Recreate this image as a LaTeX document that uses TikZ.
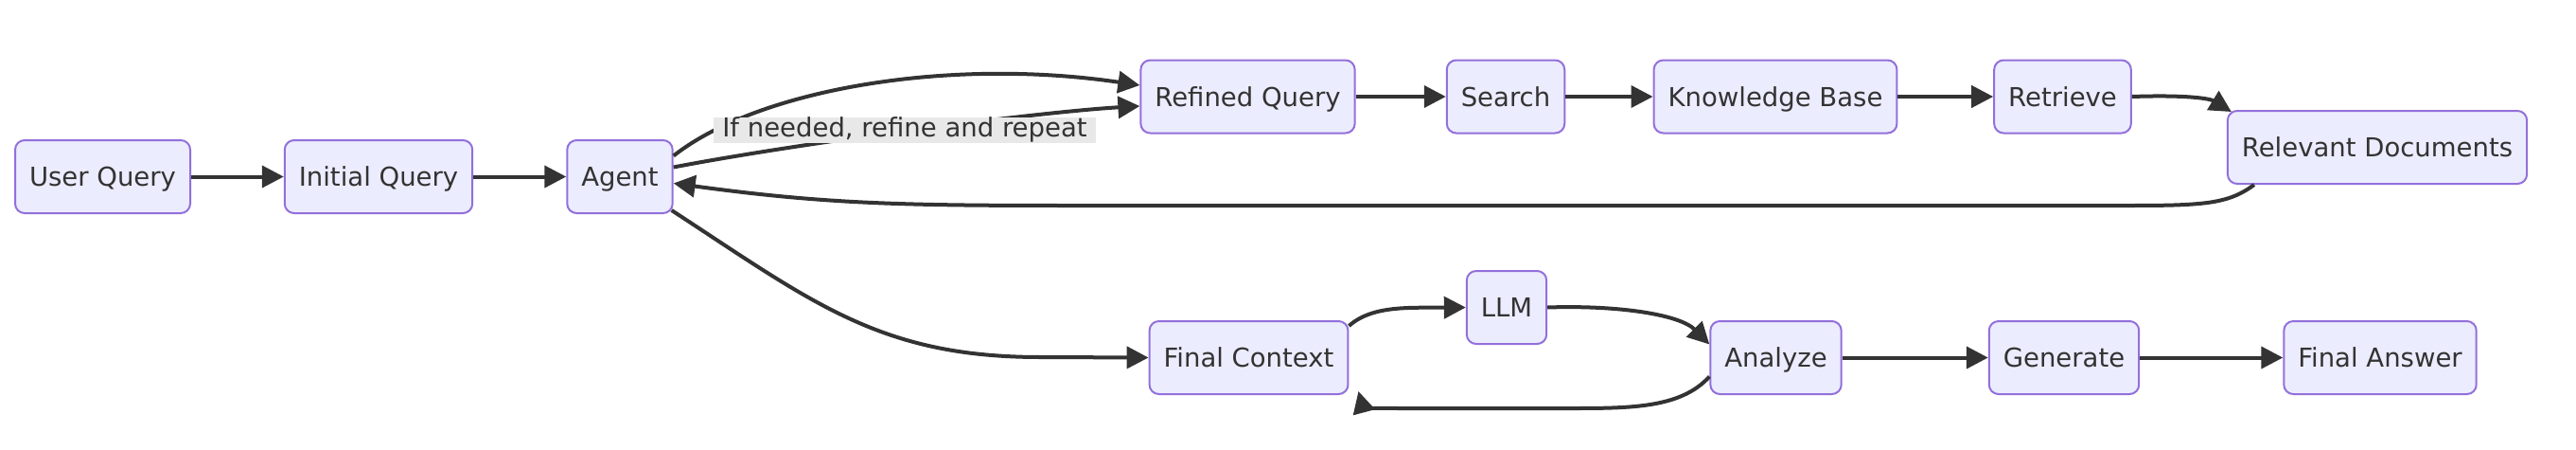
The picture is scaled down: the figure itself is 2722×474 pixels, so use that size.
\documentclass[tikz,border=0pt]{standalone}
\usepackage{fontspec}
\setmainfont{DejaVu Sans}
\usetikzlibrary{arrows.meta,calc}
\definecolor{boxfill}{HTML}{ECECFF}
\definecolor{boxline}{HTML}{9370DB}
\definecolor{edgecol}{HTML}{333333}
\definecolor{lblbg}{HTML}{E8E8E8}
\definecolor{textcol}{HTML}{333333}
\begin{document}
\begin{tikzpicture}[x=1pt,y=-1pt,
  box/.style={draw=boxline, fill=boxfill, rounded corners=10pt, line width=2pt,
    minimum height=77pt, inner xsep=15pt, inner ysep=0pt, text=textcol,
    text height=20pt, text depth=0pt,
    font=\fontsize{27.5}{32}\selectfont},
  edge/.style={draw=edgecol, line width=4pt, -{Triangle[length=23pt,width=23pt]}},
  lbl/.style={fill=lblbg, inner xsep=9pt, inner ysep=0pt, text height=21pt, text depth=6pt,
    text=textcol, font=\fontsize{27.5}{32}\selectfont}]
\useasboundingbox[fill=white] (0,0) rectangle (2722,474);
% nodes
\node[box] (uq) at (108.5,186.5) {User Query};
\node[box] (iq) at (400,186.5) {Initial Query};
\node[box] (ag) at (655,186.5) {Agent};
\node[box] (rq) at (1318.5,102) {Refined Query};
\node[box] (se) at (1591,102) {Search};
\node[box] (kb) at (1876,102) {Knowledge Base};
\node[box] (rt) at (2179.5,102) {Retrieve};
\node[box] (rd) at (2512,155.5) {Relevant Documents};
\node[box] (fc) at (1319.5,377.5) {Final Context};
\node[box] (llm) at (1592,324.5) {LLM};
\node[box] (an) at (1876.5,377.5) {Analyze};
\node[box] (ge) at (2181,377.5) {Generate};
\node[box] (fa) at (2515,377.5) {Final Answer};
% edges
\draw[edge] (uq) -- (iq);
\draw[edge] (iq) -- (ag);
\draw[edge] ($(ag.east)+(0,-22)$) .. controls (800,95) and (1000,60) .. ($(rq.west)+(0,-12)$);
\draw[edge] ($(ag.east)+(0,-10)$) .. controls (850,150) and (1100,118) .. ($(rq.west)+(0,10)$);
\draw[edge] (rq) -- (se);
\draw[edge] (se) -- (kb);
\draw[edge] (kb) -- (rt);
\draw[edge] (rt.east) .. controls (2310,100) and (2335,104) .. ($(rd.north west)+(5,2)$);
\draw[edge] ($(rd.south west)+(29,0)$) .. controls (2355,215) and (2330,217) .. (2250,217) -- (1130,217) .. controls (950,217) and (870,215) .. ($(ag.east)+(0,7)$);
\draw[edge] ($(ag.south east)+(-2,-4)$) .. controls (860,320) and (930,377) .. (1100,377) -- (fc.west);
\draw[edge] ($(fc.north east)+(0,6)$) .. controls (1450,322) and (1490,325) .. (llm.west);
\draw[edge] (llm.east) .. controls (1710,322) and (1775,332) .. ($(an.west)+(0,-14)$);
\draw[edge] ($(an.west)+(0,20)$) .. controls (1775,432) and (1720,431) .. (1650,431) -- (1480,431) .. controls (1450,431) and (1440,430) .. ($(fc.south east)+(10,-4)$);
\draw[edge] (an) -- (ge);
\draw[edge] (ge) -- (fa);
% label
\node[lbl] (lab) at (956,137) {If needed, refine and repeat};
\end{tikzpicture}
\end{document}
